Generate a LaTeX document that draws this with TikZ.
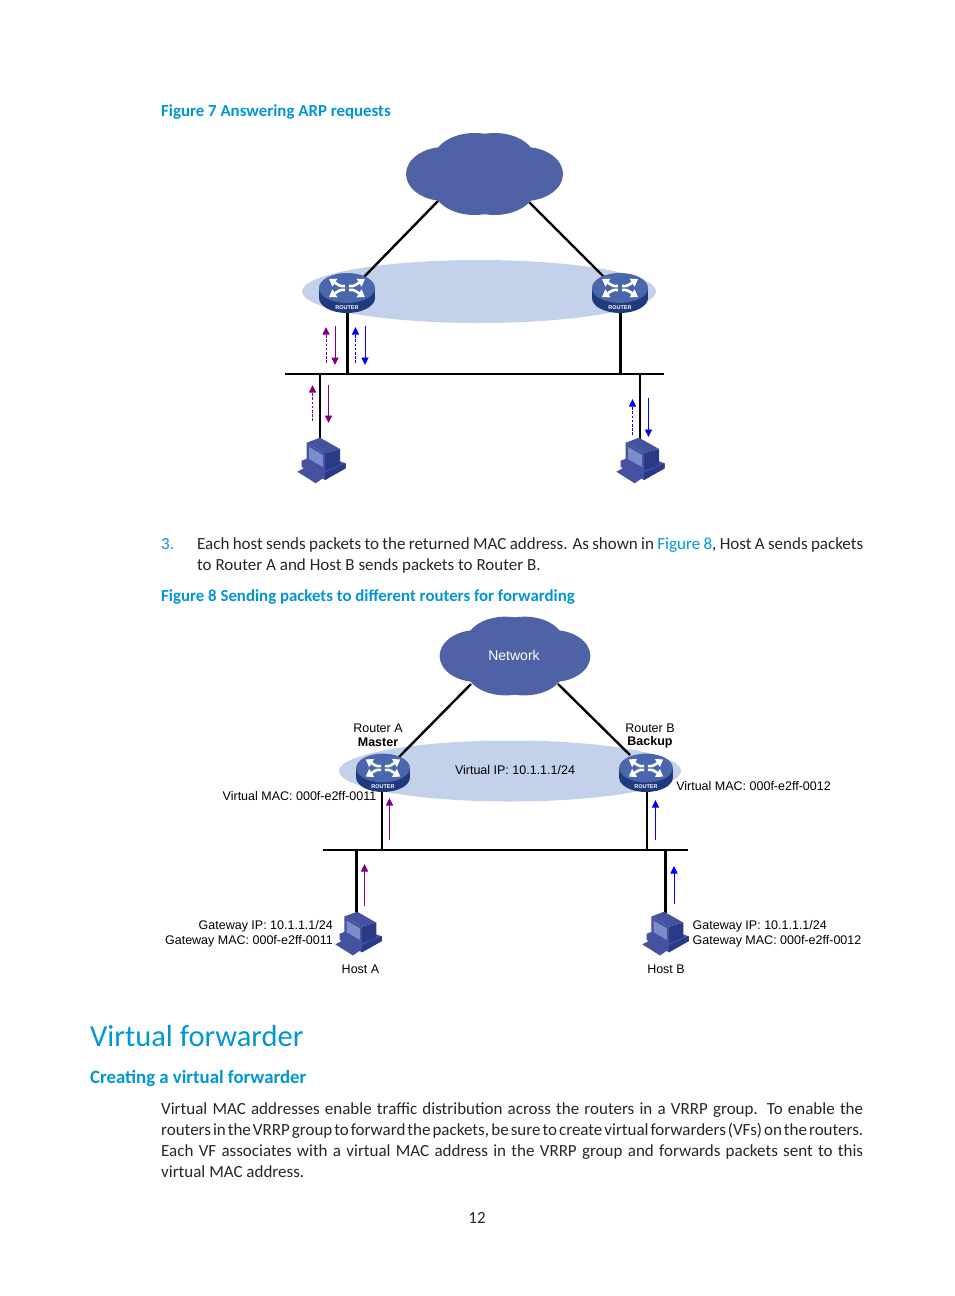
\documentclass[tikz,border=0pt]{standalone}
\usepackage{fontspec}
\setmainfont{Carlito}
\newfontfamily\labelfont{Liberation Sans}
\usetikzlibrary{arrows.meta}
\definecolor{hpblue}{HTML}{0096D6}
\definecolor{cloudblue}{HTML}{4F62A6}
\definecolor{vrrpblue}{HTML}{C3D2EA}
\definecolor{routertop}{HTML}{4A66AD}
\definecolor{routerside}{HTML}{1F3A7D}
\definecolor{hostmid}{HTML}{4552A0}
\definecolor{hostdark}{HTML}{2B3A86}
\definecolor{hostlight}{HTML}{7B8CCB}
\definecolor{arpviolet}{HTML}{800080}
\newcommand{\bodyfont}{\fontsize{17}{20}\selectfont\spaceskip=.23em plus .3em minus .12em\relax}
\tikzset{
  wire/.style={line width=2.4pt},
  thickwire/.style={line width=3pt},
  buswire/.style={line width=2pt},
  up/.style={-{Triangle[length=7.5pt,width=7pt]}, line width=0.9pt},
  updash/.style={up, dash pattern=on 2.6pt off 1.6pt},
  txt/.style={inner sep=0pt, anchor=base west, font=\bodyfont, text=black!85},
  heading/.style={txt, font=\fontsize{16.85}{20}\selectfont\bfseries, text=hpblue},
  lab/.style={inner sep=0pt, font=\labelfont\fontsize{12.5}{15}\selectfont, text=black},
  pics/cloud/.style={code={
    \fill[cloudblue] (-40,0) ellipse [x radius=38.5, y radius=27];
    \fill[cloudblue] (40,0) ellipse [x radius=38.5, y radius=27];
    \foreach \sx in {-10,10} \foreach \sy in {-14,14}
      \fill[cloudblue] (\sx,\sy) ellipse [x radius=41, y radius=27];
  }},
  pics/router/.style={code={
    \fill[routerside] (0,10) ellipse [x radius=28, y radius=15];
    \fill[routerside] (-28,0) rectangle (28,10);
    \fill[routertop] (0,0) ellipse [x radius=28, y radius=15];
    \foreach \dx/\dy in {1/1,-1/1,1/-1,-1/-1}
      \draw[white, line width=2.6pt, -{Triangle[length=7pt,width=9pt]}]
        (2*\dx,-2*\dy) .. controls (7*\dx,-1*\dy) and (10*\dx,-4*\dy) .. (18*\dx,-9*\dy);
    \node[inner sep=0pt, text=white, font=\labelfont\bfseries\fontsize{5.5}{6}\selectfont] (-name) at (0,19.5) {ROUTER};
  }},
  pics/host/.style={code={
    \fill[hostmid] (0.3,33.7) -- (9.7,28.7) -- (28,38.7) -- (18.7,45.3) -- cycle;
    \fill[hostmid] (4.7,22.7) -- (22,16) -- (48.7,25.3) -- (48.7,30.3) -- (28,42) -- (4.7,29) -- cycle;
    \fill[hostdark] (28,34.7) -- (48.7,25.3) -- (48.7,30.3) -- (28,42) -- cycle;
    \fill[hostmid] (9.7,4.7) -- (23,-0.3) -- (43,11) -- (28,15.3) -- cycle;
    \fill[hostdark] (28,15.3) -- (43,11) -- (43,27) -- (28,32.7) -- cycle;
    \fill[hostmid] (9.7,4.7) -- (28,15.3) -- (28,32.7) -- (9.7,22.7) -- cycle;
    \fill[hostlight] (12,9) -- (26,17) -- (26,29) -- (12,21) -- cycle;
  }}
}
\begin{document}
\begin{tikzpicture}[x=1pt, y=-1pt]
  \useasboundingbox (0,0) rectangle (954,1296);

  % figure 7
  \node[heading] (fig7) at (161,116) {Figure 7 Answering ARP requests};
  \fill[vrrpblue] (479,291.5) ellipse [x radius=177, y radius=31.5];
  \coordinate (ra1) at (347,288);
  \coordinate (rb1) at (620,288);
  \coordinate (cl1) at (438,201);
  \coordinate (cr1) at (528,201);
  \coordinate (bus1l) at (285,374);
  \coordinate (bus1r) at (664,374);
  \coordinate (ha1) at (320,440);
  \coordinate (hb1) at (640,440);
  \draw[wire] (cl1) -- (362,279);
  \draw[wire] (cr1) -- (606,279);
  \draw[thickwire] (ra1) -- (ra1|-bus1l);
  \draw[thickwire] (rb1) -- (rb1|-bus1l);
  \draw[buswire] (bus1l) -- (bus1r);
  \draw[wire] (ha1|-bus1l) -- (ha1);
  \draw[wire] (hb1|-bus1l) -- (hb1);
  \pic at (484.5,174) {cloud};
  \pic at (ra1) {router};
  \pic at (rb1) {router};
  \pic at (297,438) {host};
  \pic at (616,438) {host};
  \draw[updash, arpviolet] (326,363) -- (326,327);
  \draw[up, arpviolet] (335,326) -- (335,365);
  \draw[updash, blue] (355.5,363) -- (355.5,327);
  \draw[up, blue] (365,326) -- (365,365);
  \draw[updash, arpviolet] (312.5,421) -- (312.5,385);
  \draw[up, arpviolet] (328.5,385) -- (328.5,423);
  \draw[updash, blue] (632.5,435) -- (632.5,399);
  \draw[up, blue] (648.5,398) -- (648.5,437);

  % step 3
  \node[txt, text=hpblue] (step3) at (161,549) {3.};
  \node[txt] (step3a) at (197,549) {\makebox[666pt][s]{Each host sends packets to the returned MAC address. As shown in \textcolor{hpblue}{Figure 8}, Host A sends packets}};
  \node[txt] (step3b) at (197,570) {to Router A and Host B sends packets to Router B.};

  % figure 8
  \node[heading] (fig8) at (161,601) {Figure 8 Sending packets to different routers for forwarding};
  \fill[vrrpblue] (510,771) ellipse [x radius=171, y radius=30.5];
  \coordinate (ra2) at (383,768);
  \coordinate (rb2) at (646,768);
  \coordinate (pa2) at (382,775);
  \coordinate (pb2) at (647,775);
  \coordinate (cl2) at (471,684);
  \coordinate (cr2) at (558,684);
  \coordinate (bus2l) at (323,850);
  \coordinate (bus2r) at (688,850);
  \coordinate (ha2) at (356,915);
  \coordinate (hb2) at (665,915);
  \draw[wire] (cl2) -- (399,757);
  \draw[wire] (cr2) -- (630,755);
  \draw[wire] (pa2) -- (pa2|-bus2l);
  \draw[wire] (pb2) -- (pb2|-bus2l);
  \draw[buswire] (bus2l) -- (bus2r);
  \draw[thickwire] (ha2|-bus2l) -- (ha2);
  \draw[thickwire] (hb2|-bus2l) -- (hb2);
  \pic[scale=0.96] at (515,656) {cloud};
  \pic[scale=0.96] at (ra2) {router};
  \pic[scale=0.96] at (rb2) {router};
  \pic[scale=0.96] at (335,912) {host};
  \pic[scale=0.96] at (642,912) {host};
  \draw[up, arpviolet] (389.5,840) -- (389.5,798);
  \draw[up, blue] (655.5,840) -- (655.5,800);
  \draw[up, arpviolet] (364.5,906) -- (364.5,864);
  \draw[up, blue] (674,904) -- (674,866);

  \node[lab, text=white, font=\labelfont\fontsize{14}{16}\selectfont] (netname) at (514,655.5) {Network};
  \node[lab] (raname) at (378,728) {Router A};
  \node[lab, font=\labelfont\bfseries\fontsize{12.5}{15}\selectfont] (rarole) at (378,742.5) {Master};
  \node[lab] (rbname) at (650,728) {Router B};
  \node[lab, font=\labelfont\bfseries\fontsize{12.5}{15}\selectfont] (rbrole) at (650,742.5) {Backup};
  \node[lab] (vip) at (515,770) {Virtual IP: 10.1.1.1/24};
  \node[lab] (vmaca) at (299.5,796) {Virtual MAC: 000f-e2ff-0011};
  \node[lab] (vmacb) at (753.5,786) {Virtual MAC: 000f-e2ff-0012};
  \node[lab, anchor=east] (gipa) at (333,926) {Gateway IP: 10.1.1.1/24};
  \node[lab, anchor=east] (gmaca) at (333,941) {Gateway MAC: 000f-e2ff-0011};
  \node[lab, anchor=west] (gipb) at (692.5,926) {Gateway IP: 10.1.1.1/24};
  \node[lab, anchor=west] (gmacb) at (692.5,941) {Gateway MAC: 000f-e2ff-0012};
  \node[lab] (hosta) at (360.5,969) {Host A};
  \node[lab] (hostb) at (666,969) {Host B};

  % text below
  \node[txt, font=\fontsize{30.5}{36}\selectfont, text=hpblue] (title) at (90,1046) {Virtual forwarder};
  \node[heading, font=\fontsize{18.8}{22}\selectfont\bfseries] (subtitle) at (90,1083) {Creating a virtual forwarder};
  \node[txt] (para1) at (161,1114) {\makebox[702pt][s]{Virtual MAC addresses enable traffic distribution across the routers in a VRRP group. To enable the}};
  \node[txt] (para2) at (161,1135) {\makebox[702pt][s]{routers in the VRRP group to forward the packets, be sure to create virtual forwarders (VFs) on the routers.}};
  \node[txt] (para3) at (161,1156) {\makebox[702pt][s]{Each VF associates with a virtual MAC address in the VRRP group and forwards packets sent to this}};
  \node[txt] (para4) at (161,1177) {virtual MAC address.};
  \node[txt, anchor=base] (pageno) at (477,1223) {12};
\end{tikzpicture}
\end{document}
